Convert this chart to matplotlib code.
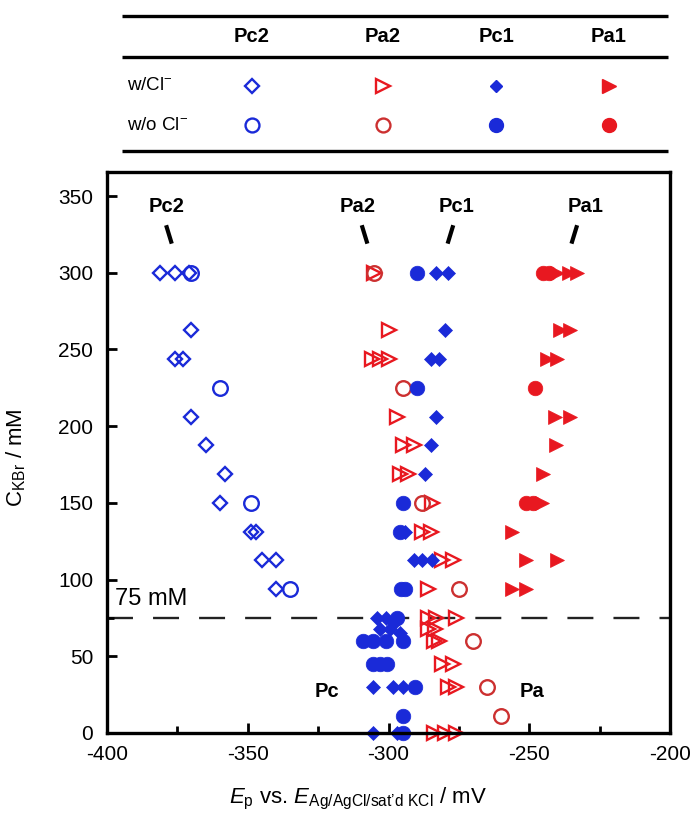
import matplotlib
matplotlib.use("Agg")
import matplotlib.pyplot as plt
from matplotlib.ticker import MultipleLocator, FixedLocator

plt.rcParams['font.family'] = ['Liberation Sans', 'DejaVu Sans']
plt.rcParams['mathtext.fontset'] = 'custom'
plt.rcParams['mathtext.rm'] = 'Liberation Sans'
plt.rcParams['mathtext.it'] = 'Liberation Sans:italic'
plt.rcParams['axes.unicode_minus'] = False

BLUE = '#1a2ad8'
RED = '#e81820'
RED_OPEN = '#cc3030'

# ---- data (E in mV, C in mM) ----
pc2_cl_E = [-381, -376, -371, -370, -376, -373, -370, -365, -358, -360, -349, -347, -345, -340, -340]
pc2_cl_C = [300, 300, 300, 262.5, 243.75, 243.75, 206.25, 187.5, 168.75, 150, 131.25, 131.25, 112.5, 112.5, 93.75]

pc2_nocl_E = [-370, -360, -349, -335]
pc2_nocl_C = [300, 225, 150, 93.75]

pa2_cl_E = [-305, -300, -306, -303, -300, -297, -295, -291, -296, -293, -284.5, -288, -285,
            -281, -277, -286, -286, -283, -276, -286, -283.5, -284, -282, -281, -277, -279, -276,
            -284, -280, -276]
pa2_cl_C = [300, 262.5, 243.75, 243.75, 243.75, 206.25, 187.5, 187.5, 168.75, 168.75, 150, 131.25, 131.25,
            112.5, 112.5, 93.75, 75, 75, 75, 68, 68, 60, 60, 45, 45, 30, 30,
            0, 0, 0]

pa2_nocl_E = [-305, -295, -288, -275, -270, -265, -260]
pa2_nocl_C = [300, 225, 150, 93.75, 60, 30, 11]

pc1_cl_E = [-283, -279, -280, -285, -282, -283, -285, -287, -294, -291, -288, -284.5,
            -304, -301, -303, -299.5, -298, -296, -305.5, -298.5, -295, -305.5, -297]
pc1_cl_C = [300, 300, 262.5, 243.75, 243.75, 206.25, 187.5, 168.75, 131.25, 112.5, 112.5, 112.5,
            75, 75, 68, 68, 72, 65, 30, 30, 30, 0, 0]

pc1_nocl_E = [-290, -290, -295, -296, -295.5, -294, -297, -309, -305.5, -301, -295,
              -305.5, -303, -300.5, -290.5, -295, -295]
pc1_nocl_C = [300, 225, 150, 131.25, 93.75, 93.75, 75, 60, 60, 60, 60,
              45, 45, 45, 30, 11, 0]

pa1_cl_E = [-240, -236, -233, -239, -235.5, -243.7, -240, -241, -235.5, -240.5, -245, -245.5,
            -256, -251, -240, -256, -251]
pa1_cl_C = [300, 300, 300, 262.5, 262.5, 243.75, 243.75, 206.25, 206.25, 187.5, 168.75, 150,
            131.25, 112.5, 112.5, 93.75, 93.75]

pa1_nocl_E = [-245, -243, -248, -251, -248.5]
pa1_nocl_C = [300, 300, 225, 150, 150]

peak_names = ['Pc2', 'Pa2', 'Pc1', 'Pa1']
peak_label_E = [-379, -311, -276, -230]
peak_tick_E = [(-379, -377), (-309.5, -307.5), (-279, -277), (-235, -233)]
peak_tick_C = [(331, 319), (331, 319), (319, 331), (319, 331)]

x_ticks = [-400, -350, -300, -250, -200]
y_ticks = [0, 50, 100, 150, 200, 250, 300, 350]
c_line = 75

fig = plt.figure(figsize=(6.98, 8.16), dpi=100)
ax = fig.add_axes([107 / 698, 83 / 816, 563 / 698, 561 / 816])

common = dict(linestyle='none', clip_on=False)
ax.plot(pc2_cl_E, pc2_cl_C, marker='D', ms=7.5, mfc='none', mec=BLUE, mew=1.7, **common)
ax.plot(pc2_nocl_E, pc2_nocl_C, marker='o', ms=10.5, mfc='none', mec=BLUE, mew=1.7, **common)
ax.plot(pa2_cl_E, pa2_cl_C, marker='>', ms=9.5, mfc='none', mec=RED, mew=1.7, **common)
ax.plot(pa2_nocl_E, pa2_nocl_C, marker='o', ms=10.5, mfc='none', mec=RED_OPEN, mew=1.7, **common)
ax.plot(pc1_cl_E, pc1_cl_C, marker='D', ms=7, mfc=BLUE, mec=BLUE, mew=0.5, **common)
ax.plot(pc1_nocl_E, pc1_nocl_C, marker='o', ms=10.5, mfc=BLUE, mec=BLUE, mew=0.5, **common)
ax.plot(pa1_cl_E, pa1_cl_C, marker='>', ms=9.5, mfc=RED, mec=RED, mew=0.5, **common)
ax.plot(pa1_nocl_E, pa1_nocl_C, marker='o', ms=10.5, mfc=RED, mec=RED, mew=0.5, **common)

ax.axhline(c_line, color='#222222', lw=1.7, dashes=(11, 8.5), zorder=1)
ax.text(-397, 80, '75 mM', fontsize=17, ha='left', va='bottom')

for name, lx, tx, ty in zip(peak_names, peak_label_E, peak_tick_E, peak_tick_C):
    ax.text(lx, 343, name, fontsize=14.5, fontweight='bold', ha='center', va='center')
    ax.plot(tx, ty, color='black', lw=3, solid_capstyle='butt')

ax.text(-322, 27, 'Pc', fontsize=14.5, fontweight='bold', ha='center', va='center')
ax.text(-249, 27, 'Pa', fontsize=14.5, fontweight='bold', ha='center', va='center')

ax.set_xlim(-400, -200)
ax.set_ylim(0, 365.7)
ax.set_xticks(x_ticks)
ax.set_yticks(y_ticks)
ax.xaxis.set_minor_locator(MultipleLocator(25))
ax.yaxis.set_minor_locator(FixedLocator([c_line]))
ax.tick_params(which='major', direction='in', length=7, width=2, labelsize=15,
               colors='black')
ax.tick_params(axis='x', which='major', pad=9)
ax.tick_params(axis='y', which='major', pad=10)
ax.tick_params(which='minor', direction='in', length=5, width=2)
for s in ax.spines.values():
    s.set_linewidth(2.4)

ax.set_xlabel(r"$E_{\mathrm{p}}$ vs. $E_{\mathrm{Ag/AgCl/sat’d\ KCl}}$ / mV", fontsize=16, labelpad=14)
ax.xaxis.set_label_coords(0.446, -0.095)
ax.set_ylabel(r"C$_{\mathrm{KBr}}$ / mM", fontsize=16)
ax.yaxis.set_label_coords(-0.14, 0.49)

# ---- legend table on top ----
tab = fig.add_axes([0, 0, 1, 1], zorder=-1)
tab.set_xlim(0, 698)
tab.set_ylim(816, 0)
tab.axis('off')
for yy in [16, 57, 151]:
    tab.plot([122, 668], [yy, yy], color='black', lw=2.4, solid_capstyle='butt')

col_x = [252, 383, 496, 609]
row_y = [86, 125]
for name, cx in zip(peak_names, col_x):
    tab.text(cx, 36, name, fontsize=14.5, fontweight='bold', ha='center', va='center')
tab.text(127, row_y[0], r'w/Cl$^{-}$', fontsize=13.5, ha='left', va='center')
tab.text(127, row_y[1], r'w/o Cl$^{-}$', fontsize=13.5, ha='left', va='center')

tab.plot(col_x[0], row_y[0], marker='D', ms=7, mfc='none', mec=BLUE, mew=1.7)
tab.plot(col_x[1], row_y[0], marker='>', ms=9.5, mfc='none', mec=RED, mew=1.7)
tab.plot(col_x[2], row_y[0], marker='D', ms=6.5, mfc=BLUE, mec=BLUE)
tab.plot(col_x[3], row_y[0], marker='>', ms=9.5, mfc=RED, mec=RED)
tab.plot(col_x[0], row_y[1], marker='o', ms=10, mfc='none', mec=BLUE, mew=1.7)
tab.plot(col_x[1], row_y[1], marker='o', ms=10, mfc='none', mec=RED_OPEN, mew=1.7)
tab.plot(col_x[2], row_y[1], marker='o', ms=10, mfc=BLUE, mec=BLUE)
tab.plot(col_x[3], row_y[1], marker='o', ms=10, mfc=RED, mec=RED)

fig.savefig('out.png', dpi=100)
